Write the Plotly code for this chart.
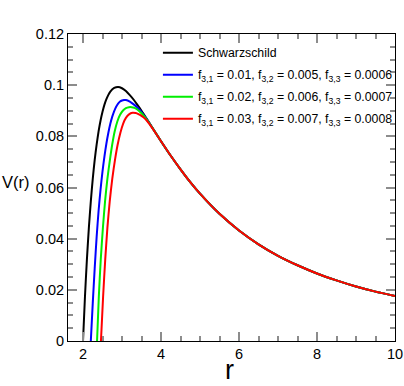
import plotly.graph_objects as go

# Schwarzschild branch (r < 4)
r_black = [2.0, 2.05, 2.1, 2.15, 2.2, 2.25, 2.3, 2.35, 2.4, 2.45, 2.5, 2.55, 2.6, 2.65, 2.7,
           2.8, 2.9, 3.0, 3.1, 3.2, 3.3, 3.4, 3.5, 3.6, 3.7, 3.8]
v_black = [0.0, 0.0173, 0.0319, 0.0442, 0.0546, 0.0634, 0.0708, 0.0769, 0.0820, 0.0862, 0.0896,
           0.0924, 0.0945, 0.0962, 0.0975, 0.0989, 0.0993, 0.0988, 0.0977, 0.0961, 0.0943,
           0.0922, 0.0900, 0.0876, 0.0853, 0.0829]

r_blue = [2.2, 2.25, 2.3, 2.35, 2.4, 2.45, 2.5, 2.55, 2.6, 2.65, 2.7, 2.75, 2.8, 2.85, 2.9,
          2.95, 3.0, 3.05, 3.1, 3.2, 3.3, 3.4, 3.5, 3.6, 3.7, 3.8]
v_blue = [0.0, 0.0148, 0.0285, 0.0408, 0.0510, 0.0593, 0.0663, 0.0722, 0.0772, 0.0814, 0.0849,
          0.0877, 0.0899, 0.0916, 0.0928, 0.0936, 0.0940, 0.0942, 0.0942, 0.0936, 0.0925,
          0.0912, 0.0895, 0.0874, 0.0852, 0.0828]

r_green = [2.36, 2.405, 2.455, 2.51, 2.565, 2.625, 2.69, 2.75, 2.81, 2.88, 2.95, 3.02, 3.1,
           3.18, 3.25, 3.32, 3.4, 3.5, 3.6, 3.7, 3.8]
v_green = [0.0, 0.0173, 0.0319, 0.0442, 0.0546, 0.0634, 0.0708, 0.0769, 0.0818, 0.0858, 0.0884,
           0.0900, 0.0910, 0.0914, 0.0914, 0.0911, 0.0904, 0.0890, 0.0872, 0.0851, 0.0828]

r_red = [2.46, 2.515, 2.57, 2.625, 2.685, 2.75, 2.82, 2.885, 2.96, 3.03, 3.1, 3.18, 3.27, 3.35,
         3.42, 3.5, 3.6, 3.7, 3.8]
v_red = [0.0, 0.0173, 0.0319, 0.0442, 0.0546, 0.0634, 0.0708, 0.0765, 0.0815, 0.0850, 0.0872,
         0.0886, 0.0892, 0.0891, 0.0887, 0.0880, 0.0868, 0.0849, 0.0827]

# common tail (r >= 4), where all curves coincide
r_tail = [4.0, 4.25, 4.5, 4.75, 5.0, 5.5, 6.0, 6.5, 7.0, 7.5, 8.0, 8.5, 9.0, 9.5, 10.0]
v_tail = [0.0781, 0.0724, 0.0671, 0.0621, 0.0576, 0.0497, 0.0432, 0.0378, 0.0333, 0.0296,
          0.0264, 0.0237, 0.0213, 0.0193, 0.0176]

names = ["Schwarzschild",
         "f<sub>3,1</sub> = 0.01, f<sub>3,2</sub> = 0.005, f<sub>3,3</sub> = 0.0006",
         "f<sub>3,1</sub> = 0.02, f<sub>3,2</sub> = 0.006, f<sub>3,3</sub> = 0.0007",
         "f<sub>3,1</sub> = 0.03, f<sub>3,2</sub> = 0.007, f<sub>3,3</sub> = 0.0008"]
colors = ["#000000", "#0000ff", "#00ee00", "#ff0000"]
series = [(r_black, v_black), (r_blue, v_blue), (r_green, v_green), (r_red, v_red)]

FONT = "Liberation Sans, Arial, Helvetica, sans-serif"

fig = go.Figure()
for i, ((rr, vv), nm, col) in enumerate(zip(series, names, colors)):
    fig.add_trace(go.Scatter(
        x=rr + r_tail, y=vv + v_tail, mode="lines", name=nm, legendgroup=f"g{i}",
        line=dict(color=col, width=2, shape="spline", smoothing=0.6),
    ))

axis_common = dict(
    showgrid=False, zeroline=False, showline=True, linecolor="black", linewidth=1,
    mirror="ticks", ticks="inside", ticklen=9, tickwidth=1.5, tickcolor="#8c8c8c",
    tickfont=dict(family=FONT, size=14.5, color="black"),
)

fig.update_xaxes(range=[1.615, 10], tickmode="linear", tick0=2, dtick=2,
                 minor=dict(ticks="inside", ticklen=5, tickcolor="#8c8c8c", dtick=0.5, tick0=2, showgrid=False),
                 **axis_common)
fig.update_yaxes(range=[0, 0.12], tickmode="linear", tick0=0, dtick=0.02,
                 minor=dict(ticks="inside", ticklen=5, tickcolor="#8c8c8c", dtick=0.005, tick0=0, showgrid=False),
                 **axis_common)

fig.add_annotation(text="r", xref="paper", yref="paper", x=0.495, y=-0.0945,
                   xanchor="center", yanchor="middle", showarrow=False,
                   font=dict(family=FONT, size=27, color="black"))
fig.add_annotation(text="V(r)", xref="paper", yref="paper", x=-0.158, y=0.519,
                   xanchor="center", yanchor="middle", showarrow=False,
                   font=dict(family=FONT, size=16.5, color="black"))

fig.update_layout(
    width=404, height=386,
    margin=dict(l=68, r=9, t=34, b=45, autoexpand=False),
    paper_bgcolor="white", plot_bgcolor="white",
    showlegend=True,
    legend=dict(x=0.275, y=0.9865, xanchor="left", yanchor="top",
                bgcolor="rgba(0,0,0,0)", borderwidth=0,
                font=dict(family=FONT, size=12.3, color="black"),
                itemwidth=30, tracegroupgap=3),
)

# remove the browser's default 8px body margin so the figure fills the window
fig.write_html("out.html",
               config={"displayModeBar": False},
               post_script="document.body.style.margin='0px';document.body.style.overflow='hidden';")
